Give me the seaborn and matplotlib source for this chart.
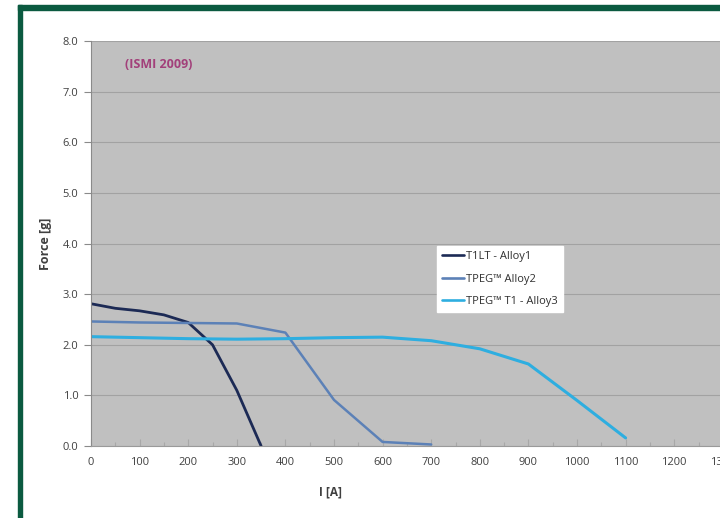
import matplotlib
matplotlib.use("Agg")
import matplotlib.pyplot as plt
import seaborn as sns
import pandas as pd
from matplotlib.patches import Rectangle
from matplotlib.ticker import MultipleLocator

# ---- data ----
alloy1_x = [0, 50, 100, 150, 200, 250, 300, 350]
alloy1_y = [2.81, 2.72, 2.67, 2.59, 2.44, 2.00, 1.10, 0.00]
alloy2_x = [0, 100, 200, 300, 400, 500, 600, 700]
alloy2_y = [2.46, 2.44, 2.43, 2.42, 2.24, 0.91, 0.08, 0.03]
alloy3_x = [0, 100, 200, 300, 400, 500, 600, 700, 800, 900, 1000, 1100]
alloy3_y = [2.16, 2.14, 2.12, 2.11, 2.12, 2.14, 2.15, 2.08, 1.92, 1.62, 0.90, 0.16]
series_names = ["T1LT - Alloy1", "TPEG\u2122 Alloy2", "TPEG\u2122 T1 - Alloy3"]
colors = ["#1c2a55", "#5c81b7", "#2eaee0"]
y_ticks = [0.0, 1.0, 2.0, 3.0, 4.0, 5.0, 6.0, 7.0, 8.0]
x_ticks = list(range(0, 1400, 100))
annotation = "(ISMI 2009)"

frames = []
for name, xs, ys in zip(series_names, [alloy1_x, alloy2_x, alloy3_x],
                        [alloy1_y, alloy2_y, alloy3_y]):
    frames.append(pd.DataFrame({"I": xs, "Force": ys, "Series": name}))
df = pd.concat(frames, ignore_index=True)

sns.set_theme(style="white")
plt.rcParams["font.family"] = ["Open Sans", "DejaVu Sans"]

fig = plt.figure(figsize=(7.2, 5.18), dpi=100)
fig.patch.set_facecolor("white")

W, H = 720, 518
left_px, top_px, bottom_px = 91, 41, 446
px_per_100 = 48.6
ax = fig.add_axes([left_px / W, (H - bottom_px) / H,
                   14 * px_per_100 / W, (bottom_px - top_px) / H])
ax.set_facecolor("#c0c0c0")

sns.lineplot(data=df, x="I", y="Force", hue="Series", palette=colors,
             hue_order=series_names, ax=ax, linewidth=1.9, sort=False,
             estimator=None)
for line, lw in zip(ax.get_lines(), [2.0, 1.8, 2.2]):
    line.set_linewidth(lw)

ax.set_xlim(0, 1400)
ax.set_ylim(0, 8)
ax.set_yticks(y_ticks)
ax.set_yticklabels([f"{v:.1f}" for v in y_ticks])
ax.set_xticks(x_ticks)
ax.set_xticklabels([str(v) for v in x_ticks])
ax.xaxis.set_minor_locator(MultipleLocator(50))

ax.grid(axis="y", color="#a2a2a2", linewidth=0.8)
ax.set_axisbelow(True)
for s in ["top", "right"]:
    ax.spines[s].set_visible(False)
ax.spines["left"].set_color("#8a8a8a")
ax.spines["bottom"].set_color("#9a9a9a")
ax.spines["left"].set_linewidth(0.8)
ax.spines["bottom"].set_linewidth(0.8)

txt_color = "#404040"
ax.tick_params(axis="y", which="major", direction="out", length=5, width=0.8,
               color="#8a8a8a", labelsize=8, labelcolor=txt_color, pad=4, left=True)
ax.tick_params(axis="x", which="major", direction="in", length=5, width=0.8,
               color="#a8a8a8", labelsize=8, labelcolor=txt_color, pad=8, bottom=True)
ax.tick_params(axis="x", which="minor", direction="in", length=3, width=0.8,
               color="#a8a8a8", bottom=True)

ax.set_xlabel("I [A]", fontsize=8.5, fontweight="bold", color=txt_color)
ax.set_ylabel("Force [g]", fontsize=9, fontweight="bold", color=txt_color)
ax.xaxis.set_label_coords((330 - left_px) / (14 * px_per_100), -0.098)
ax.yaxis.set_label_coords(-0.058, 0.5)

ax.text(70, 7.53, annotation, fontsize=9, fontweight="bold", color="#a2407a",
        va="center", ha="left")

leg = ax.legend(loc="upper left", bbox_to_anchor=(712 / 1400, 3.95 / 8),
                frameon=True, fancybox=False, facecolor="white", edgecolor="white",
                framealpha=1, fontsize=8, handlelength=2.0, handletextpad=0.2,
                labelspacing=1.05, borderpad=0.45, borderaxespad=0, title=None)
for t in leg.get_texts():
    t.set_color("#303030")

# dark green frame of the slide
green = "#0b5a40"
fig.add_artist(Rectangle((18 / W, 1 - 10 / H), 1 - 18 / W, 5 / H,
                         transform=fig.transFigure, color=green, zorder=10))
fig.add_artist(Rectangle((18 / W, 0), 4 / W, 1 - 5 / H,
                         transform=fig.transFigure, color=green, zorder=10))

fig.savefig("out.png", dpi=100)
